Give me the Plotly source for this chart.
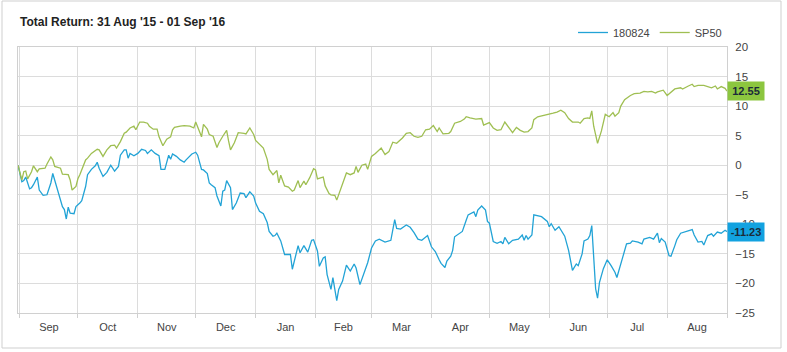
import pandas as pd
import plotly.graph_objects as go

START = "2015-08-31"

# Day offsets from 31 Aug 2015 and total return (%)
sp50_days = [0, 2, 3, 4, 5, 7, 8, 10, 11, 14, 15, 17, 18, 19, 22, 23, 26, 27, 28, 30, 31, 32, 35, 36, 38, 41, 42, 44, 46, 48, 50, 51, 53, 55, 56, 58, 60, 61, 63, 65, 67, 68, 70, 72, 73, 75, 77, 79, 80, 81, 84, 86, 89, 91, 92, 95, 96, 98, 99, 101, 103, 104, 106, 108, 109, 110, 112, 114, 117, 118, 120, 122, 123, 125, 127, 129, 130, 132, 134, 135, 136, 138, 140, 142, 143, 145, 146, 148, 149, 151, 153, 154, 155, 157, 158, 159, 161, 162, 164, 165, 167, 168, 170, 172, 174, 175, 176, 178, 180, 181, 183, 185, 188, 190, 192, 194, 196, 199, 201, 203, 205, 207, 209, 211, 213, 215, 217, 218, 220, 223, 224, 226, 229, 231, 232, 234, 237, 240, 241, 244, 246, 248, 250, 252, 254, 256, 258, 260, 262, 264, 266, 267, 269, 272, 274, 275, 277, 279, 281, 283, 285, 287, 290, 291, 293, 295, 296, 297, 298, 300, 302, 304, 306, 308, 309, 311, 312, 314, 317, 319, 322, 324, 326, 328, 330, 331, 334, 336, 338, 340, 343, 344, 347, 349, 350, 352, 355, 357, 359, 361, 362, 364, 366, 367]
sp50_values = [0.0, -2.5, -1.1, -1.0, -2.3, -1.1, -0.1, -1.1, -0.6, -0.5, 0.2, 1.4, 0.9, -0.2, -0.5, -1.5, -1.6, -2.5, -4.2, -3.6, -2.3, -1.6, 0.9, 1.2, 2.0, 2.7, 2.6, 1.5, 2.6, 3.3, 3.4, 2.9, 4.0, 5.4, 5.6, 6.3, 6.6, 6.0, 7.3, 7.3, 7.1, 6.6, 6.1, 6.1, 4.8, 3.3, 4.4, 4.8, 6.0, 6.4, 6.6, 6.7, 6.6, 6.3, 7.3, 4.8, 6.9, 6.1, 5.2, 4.9, 3.0, 3.8, 4.9, 5.9, 4.1, 2.6, 3.8, 5.5, 5.4, 5.3, 6.3, 5.2, 4.2, 3.5, 2.9, 1.0, -0.7, -1.6, -0.9, -3.0, -1.7, -3.5, -3.7, -4.4, -4.2, -2.6, -3.8, -2.7, -3.3, -2.1, -0.6, -0.8, -2.3, -2.1, -2.0, -3.5, -4.8, -5.0, -5.1, -5.9, -4.1, -3.1, -1.3, -1.6, -1.3, -0.2, -1.2, 0.0, 0.2, -0.7, 1.5, 2.0, 2.9, 1.8, 2.3, 3.9, 3.7, 4.6, 5.4, 5.5, 4.9, 4.7, 4.9, 6.0, 6.1, 6.7, 5.7, 6.3, 5.3, 5.4, 5.7, 7.1, 7.4, 7.8, 8.2, 8.0, 7.8, 7.9, 6.8, 7.2, 6.3, 5.9, 6.0, 7.3, 6.4, 5.5, 6.4, 5.9, 5.6, 5.7, 6.3, 7.7, 8.2, 8.4, 8.5, 8.6, 8.8, 9.0, 9.3, 8.9, 7.9, 7.3, 7.3, 7.1, 7.9, 8.0, 7.9, 9.2, 6.6, 3.7, 5.8, 8.6, 8.2, 8.9, 8.3, 8.9, 10.0, 11.1, 11.8, 12.1, 12.2, 12.5, 12.4, 12.5, 12.2, 12.4, 12.7, 11.8, 12.4, 12.9, 13.1, 12.9, 13.4, 13.7, 13.3, 13.5, 13.5, 13.3, 13.1, 13.4, 12.9, 13.3, 13.0, 12.55]

fund_days = [0, 2, 3, 4, 6, 7, 8, 10, 11, 13, 15, 17, 18, 19, 20, 21, 23, 24, 25, 26, 27, 29, 30, 32, 33, 35, 36, 38, 40, 41, 42, 44, 46, 48, 50, 52, 53, 55, 56, 57, 58, 60, 62, 64, 66, 67, 69, 71, 73, 74, 76, 78, 79, 80, 82, 84, 86, 87, 90, 92, 93, 95, 96, 98, 99, 100, 102, 103, 105, 106, 107, 108, 110, 111, 113, 115, 117, 118, 120, 122, 123, 125, 127, 129, 130, 132, 133, 134, 136, 138, 141, 142, 143, 145, 146, 148, 150, 152, 153, 155, 156, 158, 159, 160, 162, 163, 164, 165, 166, 168, 170, 172, 174, 175, 177, 179, 181, 183, 185, 187, 190, 193, 195, 196, 198, 201, 203, 205, 207, 209, 212, 214, 216, 218, 219, 221, 222, 224, 225, 226, 228, 230, 232, 233, 236, 237, 238, 240, 242, 243, 244, 246, 248, 250, 251, 252, 254, 256, 259, 261, 262, 263, 264, 266, 267, 269, 271, 274, 275, 276, 278, 280, 281, 283, 285, 286, 287, 289, 290, 292, 293, 295, 296, 297, 298, 299, 300, 301, 303, 305, 307, 309, 310, 312, 313, 315, 317, 318, 321, 323, 324, 327, 329, 331, 332, 333, 335, 337, 338, 340, 341, 343, 345, 347, 349, 350, 352, 354, 355, 357, 359, 360, 362, 364, 366, 367]
fund_values = [0.0, -2.8, -2.6, -2.0, -4.0, -3.8, -3.3, -2.0, -4.2, -5.1, -5.0, -3.0, -1.4, -2.5, -3.9, -4.7, -7.0, -7.5, -9.1, -7.1, -8.1, -8.2, -7.0, -6.4, -6.0, -3.6, -1.6, -0.7, -0.1, 0.5, -0.5, -1.9, -1.2, 0.0, -1.0, -0.2, 1.7, 2.6, 2.6, 1.2, 2.0, 1.6, 2.0, 2.7, 2.5, 2.0, 2.6, 2.0, 1.6, -0.7, -0.7, 1.7, 1.0, 1.9, 1.5, 0.9, 0.5, 0.9, 1.9, 2.2, 1.7, -0.7, -0.8, -1.4, -3.0, -3.3, -3.8, -5.2, -6.9, -4.4, -4.2, -2.6, -3.8, -7.5, -6.4, -4.7, -4.8, -5.5, -4.5, -5.2, -6.4, -7.8, -8.2, -9.7, -11.2, -12.0, -11.9, -11.5, -12.8, -15.1, -15.1, -17.6, -16.2, -13.6, -14.8, -13.6, -14.7, -12.7, -12.6, -14.5, -17.1, -15.7, -15.5, -18.5, -21.0, -19.0, -21.0, -22.9, -21.0, -19.6, -16.9, -17.9, -16.7, -17.4, -20.2, -18.2, -16.5, -14.0, -12.8, -12.5, -13.0, -12.7, -9.2, -10.7, -10.8, -10.1, -10.5, -11.4, -12.5, -12.7, -11.9, -13.8, -14.6, -16.0, -16.6, -17.3, -16.2, -15.4, -14.4, -12.1, -11.6, -11.2, -9.3, -8.4, -7.9, -8.7, -7.6, -6.9, -7.6, -9.5, -9.8, -12.9, -13.2, -12.9, -13.3, -12.2, -13.3, -12.7, -12.5, -11.8, -12.7, -11.9, -12.5, -11.8, -8.4, -8.6, -8.7, -9.5, -10.4, -9.9, -11.0, -10.4, -10.9, -12.0, -14.4, -16.4, -17.8, -16.7, -17.0, -15.0, -12.8, -12.5, -11.9, -10.2, -15.0, -20.9, -22.5, -19.8, -17.5, -16.0, -17.0, -18.1, -19.0, -17.0, -15.6, -13.3, -13.2, -12.8, -13.0, -13.3, -12.5, -12.2, -12.5, -11.5, -13.1, -12.4, -13.0, -15.3, -15.4, -13.6, -12.6, -11.5, -11.3, -11.0, -10.9, -11.8, -13.0, -12.9, -13.5, -11.9, -11.6, -12.0, -11.3, -11.5, -11.0, -11.23]

series_names = ["180824", "SP50"]
y_ticks = [-25, -20, -15, -10, -5, 0, 5, 10, 15, 20]

BLUE = "#22a3d6"
GREEN = "#9fbf52"

start = pd.Timestamp(START)
fund_dates = start + pd.to_timedelta(fund_days, unit="D")
sp50_dates = start + pd.to_timedelta(sp50_days, unit="D")

fig = go.Figure()
fig.add_trace(go.Scatter(x=fund_dates, y=fund_values, mode="lines", name=series_names[0],
                         line=dict(color=BLUE, width=1.3)))
fig.add_trace(go.Scatter(x=sp50_dates, y=sp50_values, mode="lines", name=series_names[1],
                         line=dict(color=GREEN, width=1.3)))

W, H = 787, 352
ml, mr, mt, mb = 18, 60, 47, 39
pw, ph = W - ml - mr, H - mt - mb

fig.update_layout(
    width=W, height=H,
    margin=dict(l=ml, r=mr, t=mt, b=mb),
    paper_bgcolor="white", plot_bgcolor="white",
    font=dict(family="Liberation Sans, Arial, sans-serif", size=11, color="#444"),
    title=dict(text="<b>Total Return: 31 Aug '15 - 01 Sep '16</b>",
               x=20 / W, xref="container", xanchor="left",
               y=1 - 22 / H, yref="container", yanchor="middle",
               font=dict(size=12, color="#222")),
    showlegend=True,
    legend=dict(orientation="h", x=1.0, xanchor="right", y=1.0, yanchor="bottom",
                font=dict(size=11, color="#444"), bgcolor="rgba(0,0,0,0)",
                itemwidth=30, tracegroupgap=0),
    xaxis=dict(type="date", range=[START, "2016-09-01"],
               tick0="2015-09-01", dtick="M1", tickformat="%b", ticklabelmode="period",
               showgrid=True, gridcolor="#dcdcdc", gridwidth=1,
               ticks="outside", ticklen=4, tickcolor="#d0d0d0",
               showline=True, linecolor="#d0d0d0", mirror=True,
               tickfont=dict(size=11, color="#444"), fixedrange=True),
    yaxis=dict(range=[-25, 20], side="right", tickvals=y_ticks,
               showgrid=True, gridcolor="#dcdcdc", gridwidth=1, zeroline=False,
               showline=True, linecolor="#d0d0d0", mirror=True,
               ticks="outside", ticklen=5, tickcolor="rgba(0,0,0,0)",
               tickfont=dict(size=11.5, color="#444"), fixedrange=True),
)

# outer frame of the widget
fig.add_shape(type="rect", xref="paper", yref="paper",
              x0=(2 - ml) / pw, x1=(781 - ml) / pw,
              y0=(mt + ph - 348) / ph, y1=(mt + ph - 1) / ph,
              line=dict(color="#cfcfcf", width=1), layer="below")

# last-value flags
for val, col in [(sp50_values[-1], "#8cc63f"), (fund_values[-1], "#12a2e0")]:
    fig.add_annotation(x=1.0, xref="paper", xanchor="left", y=val, yref="y",
                       text=f"<b>{val:.2f}</b>", showarrow=False,
                       bgcolor=col, font=dict(size=11, color="#1b2b3a"),
                       width=34, height=16, borderpad=1, align="center")

fig.write_html("out.html")
